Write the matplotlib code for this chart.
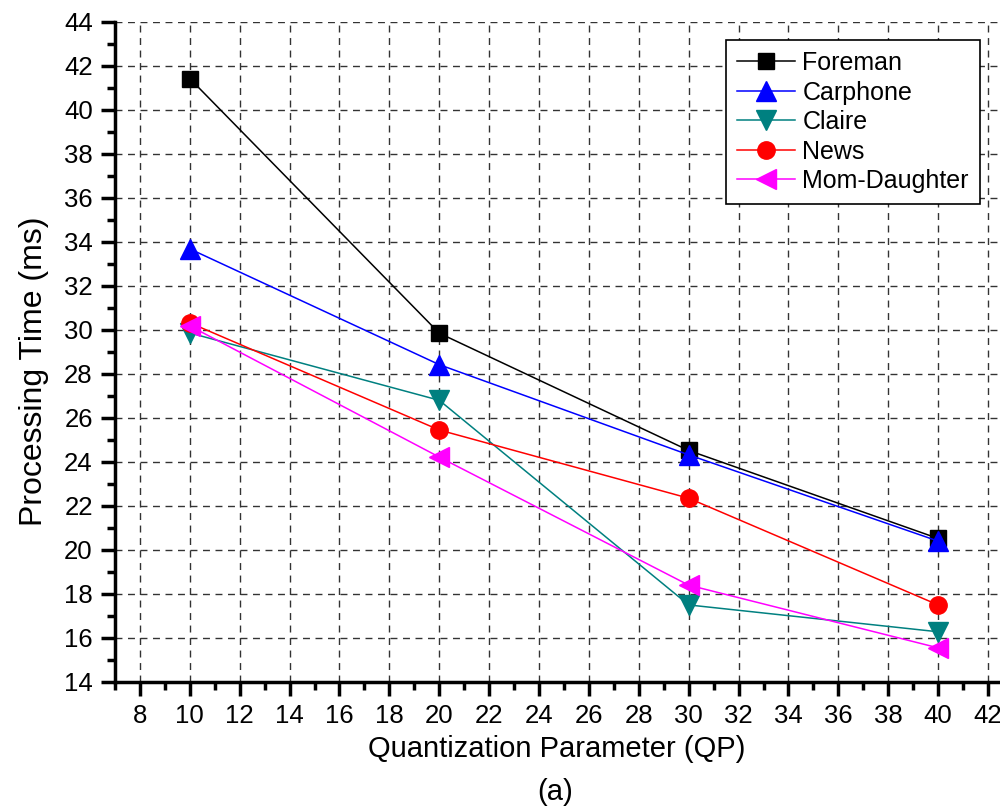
import numpy as np, matplotlib
matplotlib.use("Agg"); import matplotlib.pyplot as plt
from matplotlib.ticker import MultipleLocator
plt.rcParams.update({"font.family":["Liberation Sans","DejaVu Sans"],"font.size":18})

qp=[10,20,30,40]
foreman=[41.42,29.85,24.52,20.52]
carphone=[33.68,28.42,24.32,20.40]
claire=[29.86,26.80,17.50,16.28]
news=[30.32,25.45,22.35,17.50]
momdaughter=[30.18,24.22,18.40,15.55]
names=["Foreman","Carphone","Claire","News","Mom-Daughter"]
series=[foreman,carphone,claire,news,momdaughter]
colors=["#000000","#0000ff","#008080","#ff0000","#ff00ff"]
markers=["s","^","v","o","<"]
msizes=[12,14,14,12.5,14]

fig=plt.figure(figsize=(10,8.08),dpi=100)
ax=fig.add_axes([0.115,0.156,0.883,0.817])
for y,n,c,m,s in zip(series,names,colors,markers,msizes):
    ax.plot(qp,y,color=c,lw=1.1,marker=m,ms=s,mec=c,mfc=c,label=n,zorder=3)
ax.set_xlim(7,42.4);ax.set_ylim(14,44)
ax.xaxis.set_major_locator(MultipleLocator(2));ax.xaxis.set_minor_locator(MultipleLocator(1))
ax.yaxis.set_major_locator(MultipleLocator(2));ax.yaxis.set_minor_locator(MultipleLocator(1))
ax.set_xticks(np.arange(8,43,2))
for s in ["top","right"]:ax.spines[s].set_visible(False)
for s in ["left","bottom"]:ax.spines[s].set_linewidth(2.5)
ax.tick_params(which="major",direction="out",length=10,width=2.5,labelsize=18.5,pad=6)
ax.tick_params(which="minor",direction="out",length=6,width=2.5)
ax.grid(True,which="major",ls=(0,(5,4)),color="#333333",lw=1.0)
ax.set_axisbelow(True)
ax.set_xlabel("Quantization Parameter (QP)",fontsize=21,labelpad=5)
ax.set_ylabel("Processing Time (ms)",fontsize=23)
ax.yaxis.set_label_coords(-0.075,0.47)
fig.text(0.5555,0.002,"(a)",ha="center",va="bottom",fontsize=21)
leg=ax.legend(loc="upper right",bbox_to_anchor=(1,1),borderaxespad=0.72,fontsize=18,frameon=True,fancybox=False,
              framealpha=1,edgecolor="#000000",handlelength=2.3,handletextpad=0.3,labelspacing=0.22,borderpad=0.45)
leg.get_frame().set_linewidth(1.2)
fig.savefig("out.png",dpi=100)
